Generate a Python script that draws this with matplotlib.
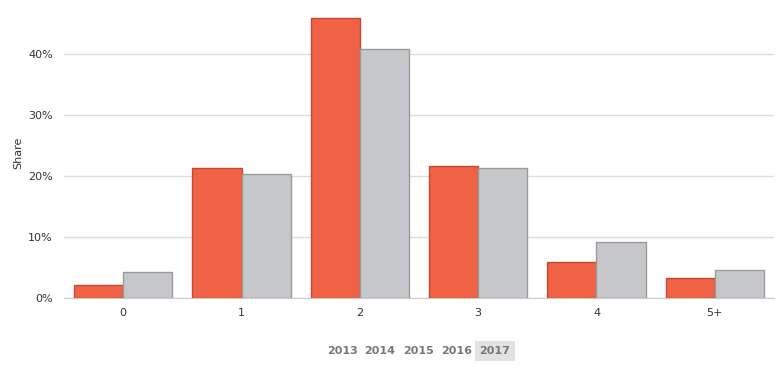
import matplotlib
matplotlib.use("Agg")
import matplotlib.pyplot as plt
import numpy as np
from matplotlib.ticker import FuncFormatter

categories = ["0", "1", "2", "3", "4", "5+"]
series_a = [2.1, 21.3, 45.9, 21.6, 5.9, 3.3]
series_b = [4.3, 20.3, 40.8, 21.3, 9.2, 4.6]
years = ["2013", "2014", "2015", "2016", "2017"]

fig = plt.figure(figsize=(7.79, 3.69), dpi=100)
ax = fig.add_axes([64/779, 71/369, 710/779, 298/369])

x = np.arange(len(categories))
w = 0.415
ax.bar(x - w/2, series_a, width=w, color="#ef6245", edgecolor="#c24a33", linewidth=1, zorder=3)
ax.bar(x + w/2, series_b, width=w, color="#c6c7ca", edgecolor="#9a9a9a", linewidth=1, zorder=3)

ax.set_xlim(-0.5, len(categories) - 0.5)
ax.set_ylim(0, 48.9)
ax.set_yticks([0, 10, 20, 30, 40])
ax.yaxis.set_major_formatter(FuncFormatter(lambda v, p: f"{int(v)}%"))
ax.set_xticks(x)
ax.set_xticklabels(categories)
ax.grid(axis="y", color="#dddddd", linewidth=1, zorder=0)
for s in ["top", "right", "left"]:
    ax.spines[s].set_visible(False)
ax.spines["bottom"].set_color("#cccccc")
ax.tick_params(axis="both", length=0, labelsize=8, colors="#333333")
ax.tick_params(axis="y", pad=8)
ax.tick_params(axis="x", pad=7)
fig.text(18/779, 1 - 153/369, "Share", rotation=90, ha="center", va="center",
         fontsize=8, color="#333333")

xs = [342, 380, 418, 457, 495]
for yr, xp in zip(years, xs):
    kw = {}
    if yr == "2017":
        kw["bbox"] = dict(boxstyle="square,pad=0.45", facecolor="#e2e2e2", edgecolor="none")
    fig.text(xp/779, 1 - 351/369, yr, ha="center", va="center", fontsize=8,
             color="#777777", fontweight="bold", **kw)

fig.savefig("out.png", dpi=100)
